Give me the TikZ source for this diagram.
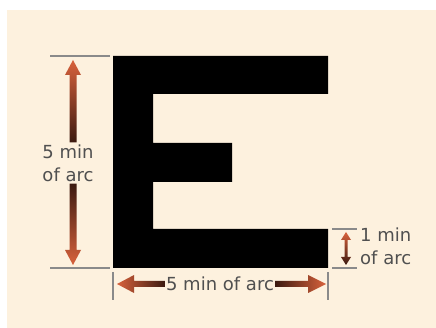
\documentclass[tikz,border=0pt]{standalone}
\usepackage{fontspec}
\setmainfont{DejaVu Sans}
\usepackage{tikz}
\usetikzlibrary{calc,positioning}

\definecolor{cream}{RGB}{253,241,222}
\definecolor{dimgray}{RGB}{138,138,138}
\definecolor{labelgray}{RGB}{80,80,80}
\definecolor{arrowtip}{RGB}{216,98,60}
\definecolor{arrowred}{RGB}{192,30,22}
\definecolor{arrowdark}{RGB}{60,26,16}

\tikzset{
  dimline/.style={dimgray, line width=1.4pt},
  dimlabel/.style={labelgray, font=\fontsize{18}{23}\selectfont, inner sep=1pt}
}

\begin{document}
\begin{tikzpicture}[x=1pt, y=-1pt]

% Background
\fill[white] (0,0) rectangle (436,328);
\fill[cream] (7,10) rectangle (436,328);
\useasboundingbox (0,0) rectangle (436,328);

% The letter E
\fill[black] (113,56) -- (328,56) -- (328,94) -- (153,94) -- (153,143)
  -- (232,143) -- (232,182) -- (153,182) -- (153,229) -- (328,229)
  -- (328,268) -- (113,268) -- cycle;

% Labels
\node[dimlabel, align=center] (heightlbl) at (68,163) {5 min\\of arc};
\node[dimlabel, align=left, anchor=west] (barlbl) at (359,246) {1 min\\of arc};
\node[dimlabel] (widthlbl) at (220,284) {5 min of arc};

% Dimension lines
\coordinate (htop) at (73,60);
\coordinate (hbot) at (73,265);
\draw[dimline] (50,56) -- (110,56);
\draw[dimline] (50,268) -- (110,268);
\draw[dimline] (332,229) -- (357,229);
\draw[dimline] (332,268) -- (357,268);
\draw[dimline] (113,272) -- (113,300);
\draw[dimline] (328,272) -- (328,300);

% Height arrows
\shade[top color=arrowtip, middle color=arrowred, bottom color=arrowdark]
  (htop) -- ($(htop)+(8,15)$) -- ($(htop)+(3.5,15)$) -- ($(heightlbl.north)+(8.5,-1)$)
  -- ($(heightlbl.north)+(1.5,-1)$) -- ($(htop)+(-3.5,15)$) -- ($(htop)+(-8,15)$) -- cycle;
\shade[top color=arrowdark, middle color=arrowred, bottom color=arrowtip]
  (hbot) -- ($(hbot)+(8,-15)$) -- ($(hbot)+(3.5,-15)$) -- ($(heightlbl.south)+(8.5,1)$)
  -- ($(heightlbl.south)+(1.5,1)$) -- ($(hbot)+(-3.5,-15)$) -- ($(hbot)+(-8,-15)$) -- cycle;

% Bar arrow
\coordinate (btop) at (346,232);
\coordinate (bbot) at (346,265);
\shade[top color=arrowtip, middle color=arrowred, bottom color=arrowdark]
  (btop) -- ($(btop)+(5,8)$) -- ($(btop)+(1.5,8)$) -- ($(bbot)+(1.5,-8)$) -- ($(bbot)+(5,-8)$)
  -- (bbot) -- ($(bbot)+(-5,-8)$) -- ($(bbot)+(-1.5,-8)$) -- ($(btop)+(-1.5,8)$)
  -- ($(btop)+(-5,8)$) -- cycle;

% Width arrows
\coordinate (wleft) at (117,284);
\coordinate (wright) at (326,284);
\shade[left color=arrowtip, middle color=arrowred, right color=arrowdark]
  (wleft) -- ($(wleft)+(17,-9)$) -- ($(wleft)+(17,-3)$) -- ($(widthlbl.west)+(0,-3)$)
  -- ($(widthlbl.west)+(0,3)$) -- ($(wleft)+(17,3)$) -- ($(wleft)+(17,9)$) -- cycle;
\shade[left color=arrowdark, middle color=arrowred, right color=arrowtip]
  (wright) -- ($(wright)+(-18,-9)$) -- ($(wright)+(-18,-3)$) -- ($(widthlbl.east)+(0,-3)$)
  -- ($(widthlbl.east)+(0,3)$) -- ($(wright)+(-18,3)$) -- ($(wright)+(-18,9)$) -- cycle;

\end{tikzpicture}
\end{document}
